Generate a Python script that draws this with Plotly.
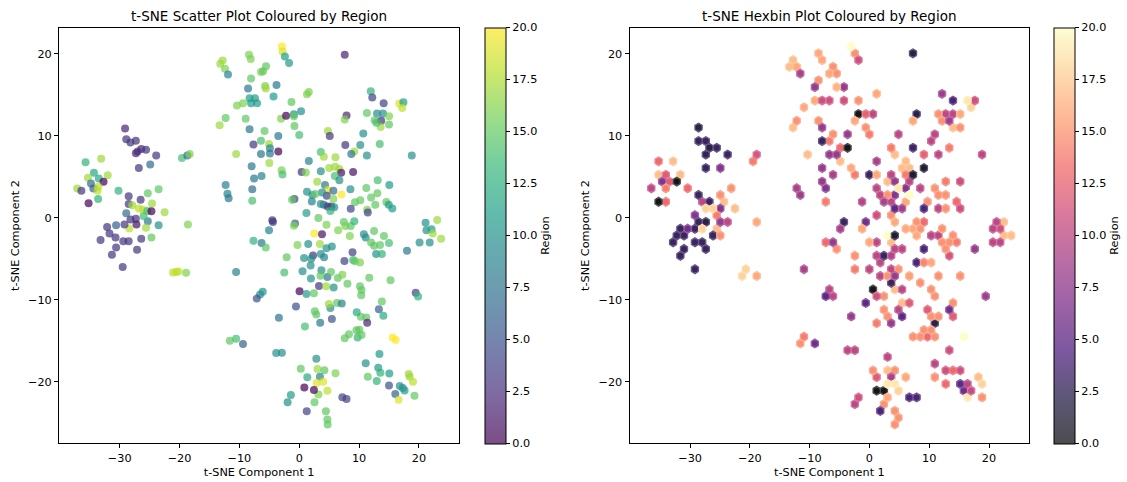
import numpy as np
import plotly.graph_objects as go
import plotly.colors as pc

# t-SNE embedding: component 1, component 2 and the region code of each sample
tsne_1 = [
    -35.7, -33.1, -34.3, -32.0, -35.3, -33.5, -34.8, -34.4, -32.7, -33.6, -33.7, -37.1, -36.4, -35.2, -33.6, -30.2,
    -29.1, -28.9, -28.2, -27.3, -27.0, -27.3, -26.4, -25.6, -23.9, -26.8, -24.9, -19.6, -18.7, -18.3,
    -28.5, -28.5, -28.9, -28.2, -27.3, -27.2, -26.5, -27.9, -26.8, -26.1, -25.4, -24.6, -24.7, -25.3, -23.5, -22.5,
    -25.3, -26.0, -25.6, -23.5, -24.7, -28.4, -29.2, -30.6, -32.1, -31.7, -30.7, -33.2, -30.6, -31.3, -29.4, -28.5,
    -26.4, -27.1, -29.5, -18.6, -21.1, -20.6, -20.2, -18.9,
    -13.2, -12.8, -12.4, -11.9, -8.4, -8.1, -6.4, -6.05, -8.05, -5.7, -5.6, -5.55, -8.55, -8.3, -7.4, -8.05, -7.05,
    -10.4, -9.4, -12.3, -13.3, -8.95, -8.3, -7.65, -6.4, -5.8, -6.4, -10.55, -7.95, -6.3, -7.55, -7.85, -7.85,
    -12.3, -12.0, -11.8, -5.05, -4.9, -4.9, -3.5, -5.0, -3.8, -4.3, -3.5,
    -2.9, -2.8, -2.4, -1.7, 7.6, -1.3, 1.3, 1.6, 11.95, 12.2, 14.1, 16.7, 17.4, 17.2, -3.05, -2.2, -0.9, 0.3, -0.9,
    7.9, 7.6, 11.3, 13.0, 14.0, 15.0, 12.6, 13.7, 13.6, 15.0, 12.9, -0.8, 0.0, 4.8, 5.1, 10.7,
    3.6, 4.1, 1.6, 6.05, 7.7, 10.2, 9.2, 8.7, 11.3, 13.45, 18.8, -2.95, -2.8, 0.4, 1.1, 3.6, 5.0, 6.0, 6.7, 7.0,
    9.0, 5.95, 6.7, 3.0, 4.3, 4.8, 5.7, 4.6, 3.8, 1.3, 2.2, 2.1, 2.7, -0.8, -1.2, 4.1, 4.75, 5.35, 5.85, 5.2,
    3.6, 5.7, 7.05, 8.55, 11.2, 13.1, 15.05, 13.05, 12.0, 10.2, 9.3, 8.6, 11.35, 11.45, 12.7, 14.55, 14.95, 15.55, 1.2,
    3.2, 4.55, 6.5, 7.45, 7.7, 8.6, 9.2, 8.45, -4.5, -4.4, -0.7, -0.9, -5.05, -7.65, -6.3, -5.6, -0.3, 1.5, 2.5,
    3.8, 3.45, 4.55, 5.45, 3.6, 4.15, 2.3, 2.0, 0.8, -2.1, 1.9, -2.5, 0.55, 1.95, 3.7, 3.3, 4.7, 3.55, 5.3, 4.5,
    5.75, 6.45, 7.2, 8.05, 9.0, 9.3, 10.15, 7.55, 8.9, 11.7, 10.15, 10.4, 10.35, 12.85, 13.8, 14.15, 12.5, 13.5,
    15.0, 10.8, 11.1, 12.0, 12.5, 18.0, 15.25, 19.45, 19.85, 21.1, 23.05, 21.25, 22.1, 22.3, 23.7, 20.1, 21.8,
    0.05, 1.2, 2.45, -6.1, -6.55, -7.1, -10.55,
    13.8, 13.3, 14.05, 11.2, 11.35, 10.3, 9.6, 9.55, 9.75, 10.05, 10.4, 8.3, 7.6, 15.6, 16.1, 5.45, 3.5, 5.2, 4.95,
    6.3, 7.1, 2.85, 2.6, 0.95, -0.55, -3.4, -11.6, -10.55, -9.4, -3.85, -2.9, 2.85, 0.25, 1.35, 3.05, 4.2, 3.45,
    2.9, 4.0, 6.05, 4.7, 3.2, 0.85, 2.45, -1.4, -1.95, 2.55, 1.25, 4.45, 4.7, 4.75, 7.2, 7.9, 11.1, 11.45, 13.2,
    13.55, 12.95, 13.4, 15.05, 15.0, 16.05, 16.8, 17.3, 17.6, 18.3, 18.45, 19.0, 19.25, 16.6,
]
tsne_2 = [
    6.8, 7.2, 5.5, 5.2, 4.9, 4.8, 4.2, 3.6, 4.4, 3.8, 3.3, 3.6, 3.3, 1.8, 2.3, 3.3,
    10.9, 9.6, 9.2, 9.4, 8.1, 7.9, 8.4, 8.3, 7.6, 6.1, 6.5, 7.3, 7.6, 7.8,
    2.65, 1.7, 0.55, -0.2, -0.1, -0.8, 2.2, 1.55, 1.15, 1.0, 0.85, 1.75, 0.8, 3.0, 3.5, 0.7,
    -0.4, 0.2, -1.2, -0.9, -2.4, -1.3, -0.8, -0.9, -1.1, -1.9, -2.4, -2.7, -3.6, -4.5, -2.85, -2.85,
    -2.55, -3.9, -6.0, -0.8, -6.67, -6.6, -6.55, -6.7,
    18.8, 19.2, 18.2, 17.5, 19.9, 19.4, 17.8, 17.9, 17.0, 16.1, 15.8, 18.5, 15.8, 14.6, 14.6, 14.0, 14.0,
    13.7, 14.0, 12.2, 11.3, 12.1, 10.8, 8.95, 9.4, 10.6, 7.8, 7.8, 6.3, 5.1, 4.8, 3.5, 2.1,
    4.0, 2.95, 2.4, 9.0, 8.5, 7.85, 8.1, 6.7, 16.2, 14.8, 10.0,
    20.9, 20.3, 19.7, 18.9, 19.9, 14.15, 15.1, 15.35, 15.45, 14.7, 14.0, 13.95, 14.1, 13.4, 12.1, 12.45, 12.65, 13.0, 12.4,
    12.5, 12.0, 12.8, 12.75, 12.75, 12.4, 11.9, 11.85, 11.1, 11.4, 11.6, 11.2, 10.1, 10.6, 10.0, 10.3,
    8.05, 7.45, 6.95, 7.4, 8.9, 8.9, 8.1, 7.8, 7.6, 9.0, 7.6, 5.8, 5.3, 5.6, 5.55, 5.7, 6.1, 6.25, 5.95, 5.5,
    5.6, 5.1, 4.6, 4.4, 4.0, 3.4, 3.3, 2.7, 3.1, 3.2, 2.8, 2.0, 2.9, 2.3, 2.2, 1.6, 1.4, 1.4, 1.3, 0.85,
    1.7, 2.3, 2.85, 3.5, 3.65, 4.6, 4.0, 3.0, 2.5, 2.15, 1.9, 1.1, 1.0, 0.65, 1.6, 1.95, 1.6, 1.15, 0.6,
    0.0, -0.85, -1.5, -0.5, -1.0, -1.0, -0.4, -2.2, -0.3, -0.5, -0.7, -0.95, -1.5, -2.8, -3.05, -3.6, -3.3, -3.2, -1.9,
    -2.0, -3.2, -3.7, -3.5, -4.4, -4.8, -4.6, -5.0, -4.9, -4.8, -5.8, -6.66, -6.5, -7.4, -6.4, -8.3, -7.2, -7.05, -6.6, -8.35,
    -8.5, -7.35, -6.95, -8.05, -5.15, -5.3, -5.45, -5.25, -4.2, -7.3, -8.35, -8.8, -9.45, -4.4, -4.4, -2.2, -1.6, -3.3,
    -3.05, -2.0, -2.4, -3.0, -3.4, -4.0, -7.6, -9.15, -9.6, -0.6, -0.25, -1.5, -1.4, -1.9, -2.55, -3.0, -3.0,
    -8.95, -9.3, -9.2, -9.0, -9.35, -9.85, -6.6,
    -10.2, -11.15, -11.95, -12.15, -12.8, -12.05, -11.5, -13.7, -14.6, -13.65, -14.3, -14.2, -14.7, -14.6, -14.9, -12.35, -12.8, -11.0, -10.5,
    -10.4, -10.45, -11.8, -11.4, -13.25, -10.8, -12.2, -15.0, -14.75, -15.4, -16.5, -16.45, -17.2, -18.4, -19.45, -18.45, -18.6, -19.4,
    -20.15, -20.0, -18.95, -21.1, -21.55, -20.7, -21.0, -21.6, -22.5, -22.5, -23.6, -23.6, -24.6, -25.2, -21.9, -22.1, -17.75, -19.4, -18.3,
    -18.9, -19.9, -16.6, -19.0, -20.45, -21.5, -20.5, -20.75, -21.05, -19.05, -19.4, -20.0, -21.7, -22.2,
]
region = [
    13, 17, 12, 17, 17, 12, 7, 6, 0, 18, 18, 17, 3, 0, 13, 13,
    2, 3, 3, 3, 3, 2, 2, 3, 3, 3, 7, 14, 7, 16,
    3, 3, 7, 3, 3, 1, 3, 17, 18, 18, 14, 17, 0, 15, 15, 17,
    8, 14, 17, 10, 15, 18, 3, 6, 3, 3, 3, 3, 3, 3, 3, 3,
    3, 3, 3, 16, 18, 18, 18, 16,
    17, 17, 16, 9, 16, 16, 16, 15, 15, 16, 17, 15, 8, 11, 11, 11, 11,
    16, 16, 15, 17, 15, 8, 3, 14, 15, 8, 17, 8, 9, 8, 7, 14,
    9, 9, 8, 17, 9, 8, 0, 17, 8, 11, 8,
    20, 19, 11, 11, 2, 15, 16, 16, 13, 4, 4, 19, 11, 18, 16, 0, 10, 10, 15,
    2, 16, 15, 10, 10, 16, 15, 3, 17, 15, 14, 15, 14, 17, 3, 10,
    14, 17, 9, 17, 3, 10, 17, 8, 10, 14, 10, 16, 14, 3, 16, 10, 17, 17, 17, 1,
    1, 14, 10, 17, 8, 19, 7, 4, 10, 10, 10, 9, 15, 4, 15, 7, 3, 3, 10, 13,
    10, 16, 20, 10, 15, 14, 11, 15, 15, 15, 15, 4, 16, 4, 15, 15, 11, 11, 11,
    15, 16, 16, 15, 16, 15, 13, 16, 3, 3, 6, 16, 9, 13, 8, 15, 16, 10, 20,
    1, 17, 10, 10, 10, 9, 3, 10, 10, 15, 10, 14, 10, 10, 10, 3, 8, 15, 15, 17,
    10, 15, 16, 15, 14, 15, 16, 4, 4, 15, 15, 15, 15, 10, 13, 15, 15, 15,
    14, 10, 10, 15, 15, 8, 15, 4, 13, 10, 17, 10, 11, 17, 17, 10, 10,
    0, 11, 15, 10, 10, 5, 9,
    15, 6, 12, 15, 2, 15, 12, 15, 13, 15, 15, 15, 15, 20, 20, 5, 8, 10, 17,
    15, 9, 15, 15, 14, 5, 8, 15, 14, 6, 10, 10, 10, 15, 12, 17, 15, 9,
    19, 19, 16, 18, 16, 0, 0, 11, 10, 15, 4, 15, 15, 15, 4, 4, 10, 15, 11,
    13, 13, 11, 11, 5, 6, 10, 10, 11, 17, 17, 18, 15, 19,
]

region_ticks = [0, 2.5, 5, 7.5, 10, 12.5, 15, 17.5, 20]
x_ticks = [-30, -20, -10, 0, 10, 20]
y_ticks = [-20, -10, 0, 10, 20]

W, H = 1127, 482
ALPHA = 0.7
FONT = "DejaVu Sans"
HEX_GRIDSIZE = 50


def rgba_list(hex_colors, alpha):
    out = []
    for c in hex_colors:
        r, g, b = pc.hex_to_rgb(c)
        out.append(f"rgba({r},{g},{b},{alpha})")
    return out


def as_scale(colors):
    n = len(colors)
    return [[i / (n - 1), c] for i, c in enumerate(colors)]


def sample_on_white(hex_colors, t, alpha):
    """Colour of the map at t, composited with the given alpha over white."""
    rgb = np.array([pc.hex_to_rgb(h) for h in hex_colors], float)
    pos = np.linspace(0, 1, len(hex_colors))
    r, g, b = (alpha * np.interp(t, pos, rgb[:, k]) + (1 - alpha) * 255 for k in range(3))
    return f"rgb({r:.1f},{g:.1f},{b:.1f})"


VIRIDIS = pc.sequential.Viridis
MAGMA = pc.sequential.Magma
viridis_scale = as_scale(rgba_list(VIRIDIS, ALPHA))
magma_scale = as_scale(rgba_list(MAGMA, ALPHA))

x = np.asarray(tsne_1, float)
y = np.asarray(tsne_2, float)
c = np.asarray(region, float)


def hexbin_mean(x, y, c, gridsize):
    """Hexagonal binning with the mean of c in each occupied cell."""
    nx = gridsize
    ny = int(nx / np.sqrt(3))
    xmin, xmax = x.min(), x.max()
    ymin, ymax = y.min(), y.max()
    pad = 1e-9 * (xmax - xmin)
    xmin -= pad
    xmax += pad
    sx = (xmax - xmin) / nx
    sy = (ymax - ymin) / ny
    ix = (x - xmin) / sx
    iy = (y - ymin) / sy
    ix1, iy1 = np.round(ix), np.round(iy)
    ix2, iy2 = np.floor(ix), np.floor(iy)
    d1 = (ix - ix1) ** 2 + 3.0 * (iy - iy1) ** 2
    d2 = (ix - ix2 - 0.5) ** 2 + 3.0 * (iy - iy2 - 0.5) ** 2
    first = d1 < d2
    cx = np.where(first, ix1, ix2 + 0.5) * sx + xmin
    cy = np.where(first, iy1, iy2 + 0.5) * sy + ymin
    cells = {}
    for a, b, v in zip(cx, cy, c):
        cells.setdefault((round(a, 6), round(b, 6)), []).append(v)
    centers = np.array(list(cells.keys()))
    means = np.array([np.mean(v) for v in cells.values()])
    return centers, means, sx, sy


centers, means, sx, sy = hexbin_mean(x, y, c, HEX_GRIDSIZE)
hex_shape = np.array([[.5, -.5], [.5, .5], [0., 1.], [-.5, .5], [-.5, -.5], [0., -1.], [.5, -.5]]) * [sx, sy / 3]


# axis limits with a 5 % margin around the data
def padded(v):
    lo, hi = v.min(), v.max()
    m = 0.05 * (hi - lo)
    return [lo - m, hi + m]


x_range = padded(x)
y_range = padded(y)

fig = go.Figure()

cb_common = dict(
    xanchor="left", xpad=0, y=(1 - 443.3 / H + 1 - 27.7 / H) / 2, yanchor="middle",
    len=415.6 / H, lenmode="fraction", ypad=0, thickness=21, thicknessmode="pixels",
    outlinewidth=1, outlinecolor="black",
    tickmode="array", tickvals=region_ticks, ticktext=[f"{v:.1f}" for v in region_ticks],
    ticks="outside", ticklen=4, tickwidth=1, tickcolor="black",
    tickfont=dict(family=FONT, size=11.25, color="black"),
    title=dict(text="Region", side="right", font=dict(family=FONT, size=11.25, color="black")),
)

# left panel: scatter coloured by region
fig.add_trace(go.Scatter(
    x=x, y=y, mode="markers", xaxis="x", yaxis="y", hoverinfo="skip", showlegend=False,
    marker=dict(size=8, color=c, colorscale=viridis_scale, cmin=0, cmax=20,
                line=dict(width=0), showscale=True,
                colorbar=dict(x=485 / W, **cb_common)),
))

# right panel: hexagonal bins, one filled trace per distinct mean value
groups = {}
for (hx, hy), m in zip(centers, means):
    groups.setdefault(round(float(m), 4), []).append((hx, hy))
for m, pts in groups.items():
    px_, py_ = [], []
    for hx, hy in pts:
        px_ += list(hx + hex_shape[:, 0]) + [None]
        py_ += list(hy + hex_shape[:, 1]) + [None]
    col = sample_on_white(MAGMA, m / 20.0, ALPHA)
    fig.add_trace(go.Scatter(
        x=px_, y=py_, mode="lines", fill="toself", fillcolor=col,
        line=dict(width=1.1, color=col), xaxis="x2", yaxis="y2",
        hoverinfo="skip", showlegend=False,
    ))

# colour bar for the hexbin panel
fig.add_trace(go.Scatter(
    x=centers[:, 0], y=centers[:, 1], mode="markers", xaxis="x2", yaxis="y2",
    hoverinfo="skip", showlegend=False,
    marker=dict(size=0, color=means, colorscale=magma_scale, cmin=0, cmax=20, showscale=True,
                colorbar=dict(x=1054.3 / W, **cb_common)),
))

tick_font = dict(family=FONT, size=11.25, color="black")
label_font = dict(family=FONT, size=11.25, color="black")
axis_common = dict(
    showline=True, linecolor="black", linewidth=1, mirror=True,
    ticks="outside", ticklen=4, tickwidth=1, tickcolor="black",
    showgrid=False, zeroline=False, tickfont=tick_font,
)
y_dom = [1 - 443.3 / H, 1 - 27.7 / H]

fig.update_layout(
    width=W, height=H, margin=dict(l=0, r=0, t=0, b=0),
    paper_bgcolor="white", plot_bgcolor="white",
    font=dict(family=FONT, color="black"),
    xaxis=dict(domain=[59 / W, 459.3 / W], range=x_range, tickvals=x_ticks, anchor="y",
               title=dict(text="t-SNE Component 1", font=label_font, standoff=4), **axis_common),
    yaxis=dict(domain=y_dom, range=y_range, tickvals=y_ticks, anchor="x",
               title=dict(text="t-SNE Component 2", font=label_font, standoff=6), **axis_common),
    xaxis2=dict(domain=[629.5 / W, 1029.3 / W], range=x_range, tickvals=x_ticks, anchor="y2",
                title=dict(text="t-SNE Component 1", font=label_font, standoff=4), **axis_common),
    yaxis2=dict(domain=y_dom, range=y_range, tickvals=y_ticks, anchor="x2",
                title=dict(text="t-SNE Component 2", font=label_font, standoff=6), **axis_common),
    annotations=[
        dict(text="t-SNE Scatter Plot Coloured by Region", x=(59 + 459.3) / 2 / W, y=1 - 16 / H,
             xref="paper", yref="paper", xanchor="center", yanchor="middle", showarrow=False,
             font=dict(family=FONT, size=13.5, color="black")),
        dict(text="t-SNE Hexbin Plot Coloured by Region", x=(629.5 + 1029.3) / 2 / W, y=1 - 16 / H,
             xref="paper", yref="paper", xanchor="center", yanchor="middle", showarrow=False,
             font=dict(family=FONT, size=13.5, color="black")),
    ],
)

fig.write_html("out.html")
